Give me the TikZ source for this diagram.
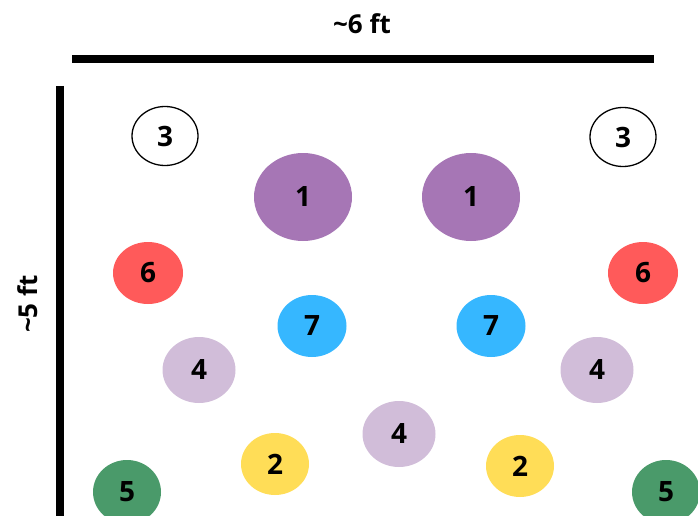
\documentclass[tikz,border=0pt]{standalone}
\usepackage{fontspec}
\setmainfont{Open Sans}
\usepackage{tikz}
\usetikzlibrary{shapes.geometric, positioning}
\definecolor{seatpurple}{RGB}{166, 118, 181}
\definecolor{seatred}{RGB}{255, 90, 90}
\definecolor{seatblue}{RGB}{54, 183, 255}
\definecolor{seatlilac}{RGB}{209, 189, 217}
\definecolor{seatyellow}{RGB}{255, 221, 87}
\definecolor{seatgreen}{RGB}{74, 154, 106}
\tikzset{
    seat/.style={ellipse, inner sep=0pt, text=black, font=\bfseries\fontsize{28}{28}\selectfont},
    seatthree/.style={seat, draw=black, line width=1.3pt, fill=white, minimum width=66pt, minimum height=59pt},
    seatone/.style={seat, fill=seatpurple, minimum width=98pt, minimum height=88pt},
    seatsix/.style={seat, fill=seatred, minimum width=70pt, minimum height=62pt},
    seatseven/.style={seat, fill=seatblue, minimum width=69pt, minimum height=62pt},
    seatfour/.style={seat, fill=seatlilac, minimum width=73pt, minimum height=66pt},
    seattwo/.style={seat, fill=seatyellow, minimum width=68pt, minimum height=62pt},
    seatfive/.style={seat, fill=seatgreen, minimum width=68pt, minimum height=64pt},
    ruler/.style={draw=black, line width=8pt},
    size label/.style={font=\bfseries\fontsize{26}{26}\selectfont}
}

\begin{document}
\begin{tikzpicture}[x=1pt, y=-1pt]
    \useasboundingbox (0,0) rectangle (698,516);
    \clip (0,0) rectangle (698,516);

    % Size marks
    \coordinate (top west) at (72,59);
    \coordinate (top east) at (654,59);
    \coordinate (side north) at (60,86);
    \coordinate (side south) at (60,520);
    \draw[ruler] (top west) -- (top east);
    \draw[ruler] (side north) -- (side south);
    \node[size label] (width) at (362,24) {\textasciitilde6 ft};
    \node[size label, rotate=90] (depth) at (28,304) {\textasciitilde5 ft};

    % Seats, left half
    \node[seatthree] (three left) at (165,136) {3};
    \node[seatone]   (one left)   at (303,197) {1};
    \node[seatsix]   (six left)   at (148,273) {6};
    \node[seatseven] (seven left) at (312,326) {7};
    \node[seatfour]  (four left)  at (199,370) {4};
    \node[seattwo]   (two left)   at (275,464) {2};
    \node[seatfive]  (five left)  at (127,492) {5};

    % Seats, right half
    \node[seatthree] (three right) at (623,137) {3};
    \node[seatone]   (one right)   at (471,197) {1};
    \node[seatsix]   (six right)   at (643,273) {6};
    \node[seatseven] (seven right) at (491,326) {7};
    \node[seatfour]  (four right)  at (597,370) {4};
    \node[seattwo]   (two right)   at (520,466) {2};
    \node[seatfive]  (five right)  at (666,492) {5};

    % Middle
    \node[seatfour] (four middle) at (399,434) {4};
\end{tikzpicture}
\end{document}
